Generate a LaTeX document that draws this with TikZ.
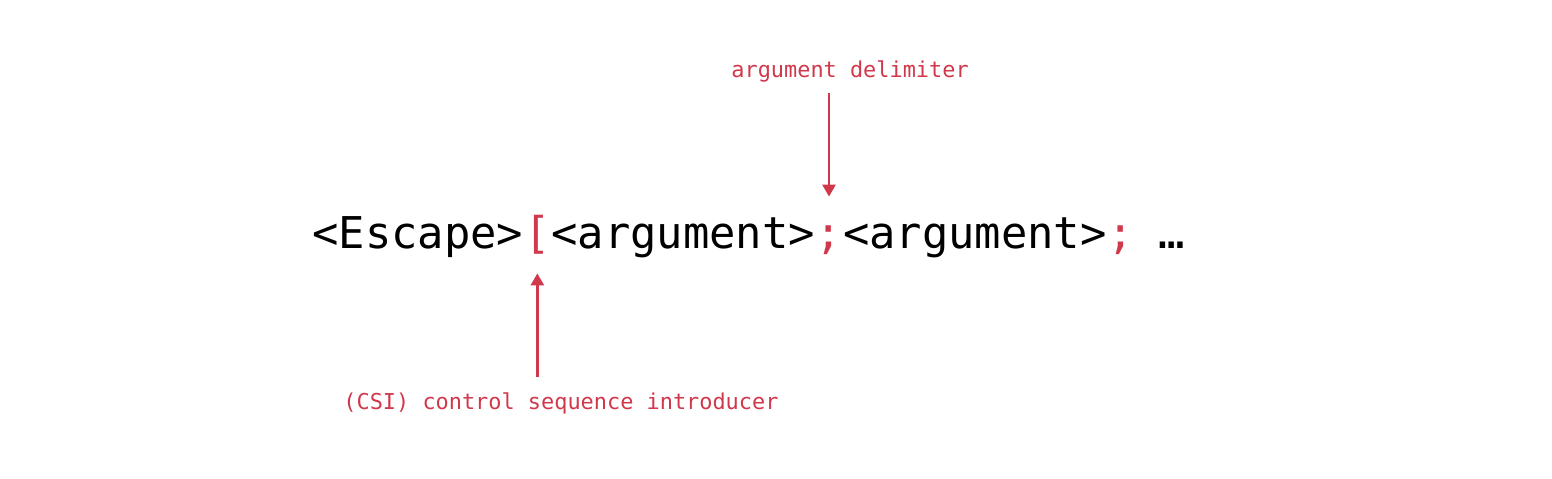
\documentclass[tikz,border=0pt]{standalone}
\usepackage{fontspec}
\newfontfamily\monofont{DejaVu Sans Mono}
\definecolor{Delimcolor}{RGB}{208,56,76}
\usetikzlibrary{positioning, arrows.meta}

\begin{document}
\begin{tikzpicture}[x=0.5pt, y=-0.5pt,
    seq/.style={
        inner sep=0pt, text height=22pt, text depth=6pt,
        font=\monofont\fontsize{21.9}{26}\selectfont},
    sep/.style={seq, text=Delimcolor},
    note/.style={
        inner sep=0pt, text height=8pt, text depth=2.5pt,
        font=\monofont\fontsize{10.95}{13}\selectfont, text=Delimcolor},
    arr/.style={-{Triangle[length=6pt, width=6.5pt]}, line width=1.3pt, color=Delimcolor}]
  \useasboundingbox (0,0) rectangle (1552,478);
  % Secuencia principal
  \node[seq, anchor=base west] (esc) at (312,248) {<Escape>};
  \node[sep, base right=0pt of esc]   (csi)   {[};
  \node[seq, base right=0pt of csi]   (arga)  {<argument>};
  \node[sep, base right=0pt of arga]  (semia) {;};
  \node[seq, base right=0pt of semia] (argb)  {<argument>};
  \node[sep, base right=0pt of argb]  (semib) {;};
  \node[seq, base right=12pt of semib] (more) {…};
  % Etiquetas
  \node[note, anchor=base west] (dlab) at (731,77)  {argument delimiter};
  \node[note, anchor=base west] (clab) at (343,409) {(CSI) control sequence introducer};
  % Flechas
  \draw[arr, shorten <=5.5pt, shorten >=3.5pt] (dlab.south -| semia) -- (semia.north);
  \draw[arr, shorten <=8pt, shorten >=6.5pt]   (clab.north -| csi) -- (csi.south);
\end{tikzpicture}
\end{document}
